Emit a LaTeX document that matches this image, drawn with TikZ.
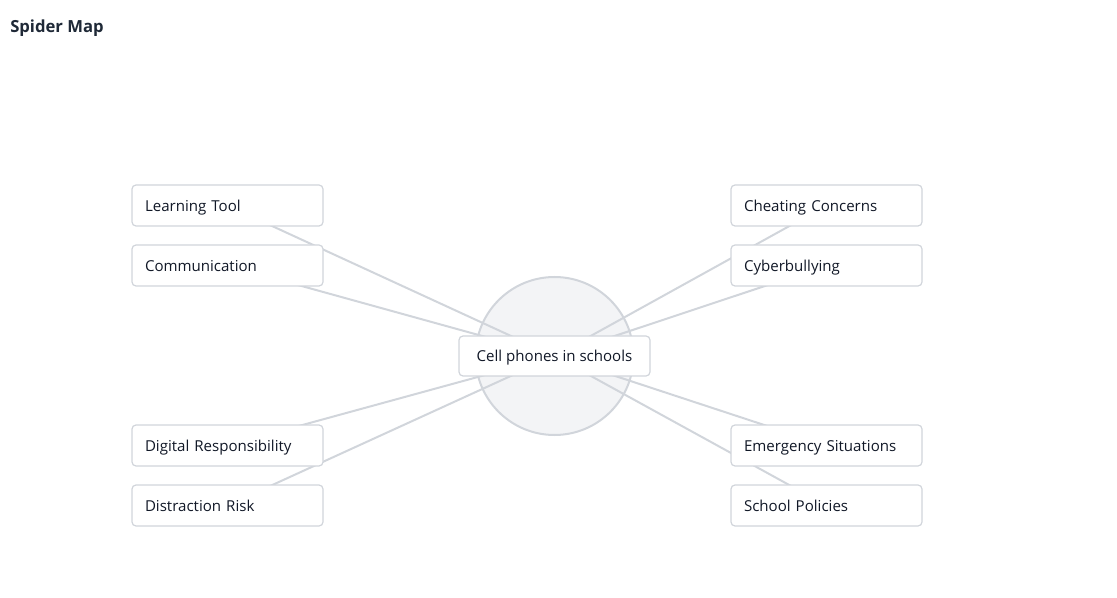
\documentclass[tikz,border=0pt]{standalone}
\usepackage{fontspec}
\setmainfont{Open Sans}
\definecolor{edgegray}{HTML}{D1D5DB}
\definecolor{hubfill}{HTML}{F3F4F6}
\definecolor{txt}{HTML}{111827}
\definecolor{titlec}{HTML}{1F2937}
\begin{document}
\begin{tikzpicture}[x=0.75pt,y=-0.75pt,
  leafbox/.style={draw=edgegray,line width=0.9pt,fill=white,rounded corners=3pt,
    minimum width=143.25pt,minimum height=30.75pt,text width=123.75pt,align=left,
    text height=10pt,text depth=1pt,
    inner xsep=9.75pt,inner ysep=0pt,font=\fontsize{11.3pt}{13pt}\selectfont,text=txt},
  hubbox/.style={draw=edgegray,line width=0.9pt,fill=white,rounded corners=3pt,
    minimum width=143.25pt,minimum height=30pt,inner sep=0pt,
    text height=10pt,text depth=1pt,
    font=\fontsize{11.3pt}{13pt}\selectfont,text=txt},
  spoke/.style={draw=edgegray,line width=1.5pt}]
\useasboundingbox (0,0) rectangle (1117,598);
\node[anchor=base west,font=\bfseries\fontsize{12.5pt}{14pt}\selectfont,text=titlec,inner sep=0pt] (title) at (10,33) {Spider Map};
\node[circle,draw=edgegray,line width=1.5pt,fill=hubfill,minimum size=118.5pt,inner sep=0pt] (hub) at (554.5,356) {};
\coordinate (c) at (554.5,356);
\coordinate (p1) at (227.5,205.5);
\coordinate (p2) at (227.5,265.5);
\coordinate (p3) at (227.5,445.5);
\coordinate (p4) at (227.5,505.5);
\coordinate (p5) at (826.5,205.5);
\coordinate (p6) at (826.5,265.5);
\coordinate (p7) at (826.5,445.5);
\coordinate (p8) at (826.5,505.5);
\foreach \p in {p1,p2,p3,p4,p5,p6,p7,p8} \draw[spoke] (c) -- (\p);
\node[leafbox] (lt) at (p1) {Learning Tool};
\node[leafbox] (co) at (p2) {Communication};
\node[leafbox] (dr) at (p3) {Digital Responsibility};
\node[leafbox] (ds) at (p4) {Distraction Risk};
\node[leafbox] (ch) at (p5) {Cheating Concerns};
\node[leafbox] (cb) at (p6) {Cyberbullying};
\node[leafbox] (em) at (p7) {Emergency Situations};
\node[leafbox] (sp) at (p8) {School Policies};
\node[hubbox] (center) at (c) {Cell phones in schools};
\end{tikzpicture}
\end{document}
